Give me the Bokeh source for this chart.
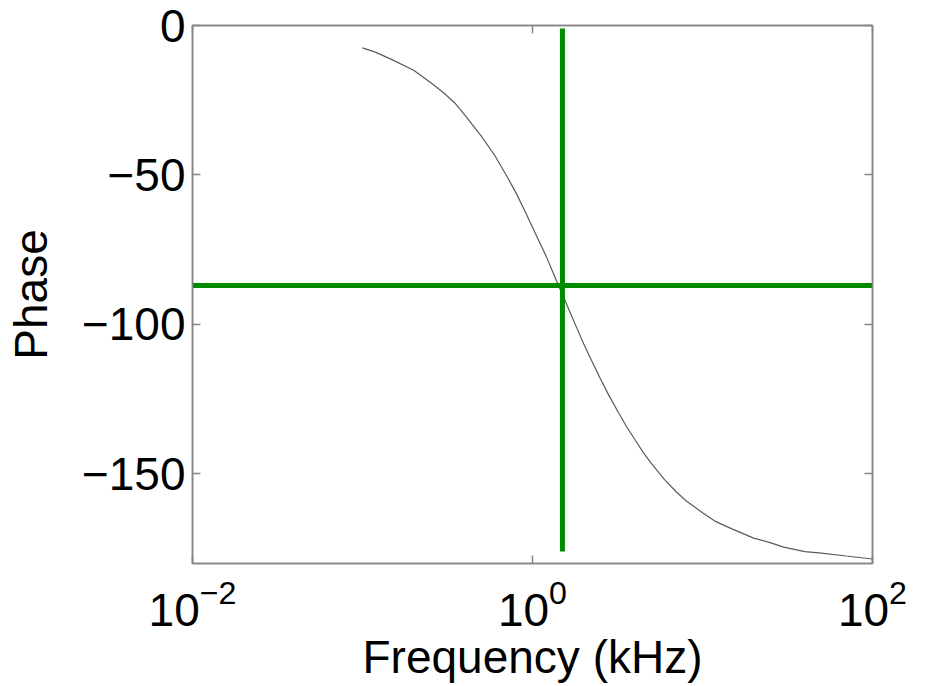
from bokeh.plotting import figure
from bokeh.models import LinearAxis, LogAxis, FixedTicker
from bokeh.embed import file_html
from bokeh.resources import INLINE

# ---- data ----
freq_khz = [0.1, 0.12, 0.15, 0.2, 0.25, 0.3, 0.35, 0.4, 0.5, 0.6, 0.7,
            0.8, 0.9, 1.0, 1.1, 1.2, 1.35, 1.5, 1.65, 1.8, 2.0, 2.2, 2.5,
            2.8, 3.2, 3.6, 4.0, 4.5, 5.0, 6.0, 7.0, 8.0, 10.0, 12.0, 15.0,
            20.0, 25.0, 30.0, 40.0, 50.0, 70.0, 100.0]
phase_deg = [-7.5, -9, -11.5, -15, -19, -22.5, -26, -30, -37, -43.5, -50,
             -56, -62, -67.5, -72.5, -77, -84, -90, -95.5, -100.5, -106.5,
             -111.5, -118, -123.5, -129.5, -134.5, -138.5, -143, -146.5,
             -152, -156, -159, -163, -166, -168.5, -171.5, -173, -174.5,
             -176, -176.5, -177.5, -178.5]

marker_freq = [1.5, 1.5]          # vertical green line (kHz)
marker_freq_span = [-1, -176]     # its phase extent
marker_phase = [-87, -87]         # horizontal green line (deg)
marker_phase_span = [0.01, 100]   # its frequency extent

ytick_vals = [0, -50, -100, -150]
ytick_labels = ["0", "\u221250", "\u2212100", "\u2212150"]
xtick_vals = [0.01, 1, 100]

FONT = "Liberation Sans"
GREY = "#858585"

p = figure(width=927, height=686, x_axis_type="log",
           x_range=(0.01, 100), y_range=(-180, 0),
           output_backend="svg", toolbar_location=None,
           min_border_left=192, min_border_right=55,
           min_border_top=25, min_border_bottom=123)
p.grid.visible = False
p.outline_line_color = GREY
p.outline_line_width = 1.5
p.background_fill_color = "white"

# curve and markers
p.line(freq_khz, phase_deg, line_color="#5a5a5a", line_width=1.2)
p.line(marker_phase_span, marker_phase, line_color="#008a00", line_width=5)
p.line(marker_freq, marker_freq_span, line_color="#008a00", line_width=5)


def style_axis(ax):
    ax.axis_line_color = GREY
    ax.axis_line_width = 1.5
    ax.major_tick_line_color = GREY
    ax.major_tick_line_width = 1.5
    ax.major_tick_in = 8
    ax.major_tick_out = 0
    ax.minor_tick_line_color = None


# left axis
yax = p.yaxis[0]
yax.ticker = FixedTicker(ticks=ytick_vals)
yax.major_label_overrides = dict(zip(ytick_vals, ytick_labels))
yax.major_label_text_font = FONT
yax.major_label_text_font_size = "46px"
yax.major_label_text_color = "black"
yax.major_label_standoff = 7
yax.axis_label = "Phase"
yax.axis_label_text_font = FONT
yax.axis_label_text_font_size = "46px"
yax.axis_label_text_font_style = "normal"
yax.axis_label_text_color = "black"
yax.axis_label_standoff = 22
style_axis(yax)

# bottom axis (default log formatter draws 10 with a raised exponent)
xax = p.xaxis[0]
xax.ticker = FixedTicker(ticks=xtick_vals)
xax.major_label_text_font = FONT
xax.major_label_text_font_size = "46px"
xax.major_label_text_color = "black"
xax.major_label_standoff = 15
xax.axis_label = "Frequency (kHz)"
xax.axis_label_text_font = FONT
xax.axis_label_text_font_size = "46px"
xax.axis_label_text_font_style = "normal"
xax.axis_label_text_color = "black"
xax.axis_label_standoff = 2
style_axis(xax)

# right and top axes (ticks only)
rax = LinearAxis(ticker=FixedTicker(ticks=ytick_vals),
                 major_label_overrides={v: "" for v in ytick_vals},
                 major_label_standoff=0)
style_axis(rax)
p.add_layout(rax, "right")
tax = LogAxis(ticker=FixedTicker(ticks=xtick_vals),
              major_label_overrides={v: "" for v in xtick_vals},
              major_label_standoff=0)
style_axis(tax)
p.add_layout(tax, "above")

open("out.html", "w").write(file_html(p, INLINE))
